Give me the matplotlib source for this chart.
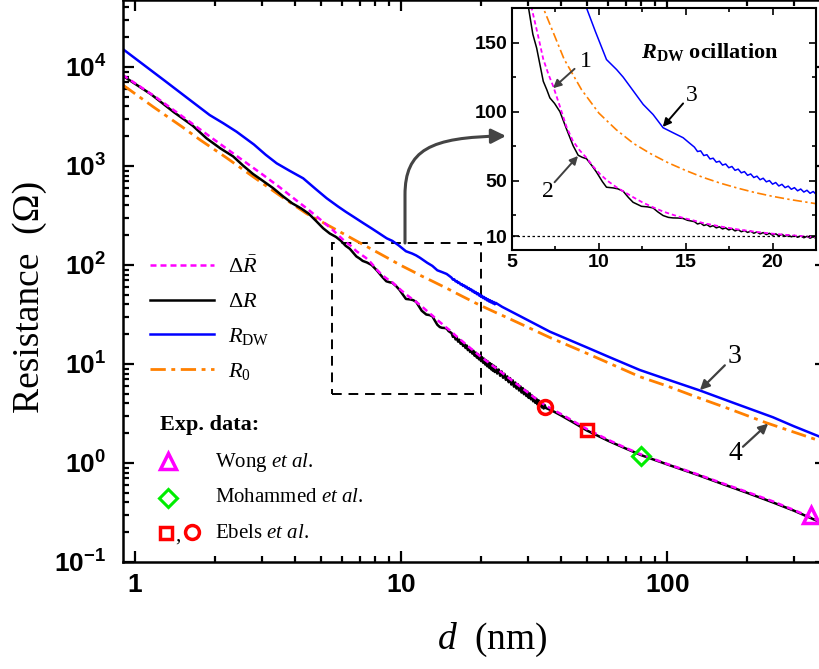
import numpy as np
import matplotlib
matplotlib.use('Agg')
import matplotlib.pyplot as plt
from matplotlib.path import Path
from matplotlib.patches import FancyArrowPatch, Rectangle
from matplotlib.lines import Line2D
from matplotlib.ticker import FixedLocator, LogLocator, FuncFormatter, NullFormatter

plt.rcParams['font.family'] = ['Liberation Sans', 'DejaVu Sans']
plt.rcParams['mathtext.fontset'] = 'custom'
plt.rcParams['mathtext.rm'] = 'Liberation Serif'
plt.rcParams['mathtext.it'] = 'Liberation Serif:italic'
plt.rcParams['mathtext.bf'] = 'Liberation Serif:bold'
plt.rcParams['mathtext.bfit'] = 'Liberation Serif:bold:italic'
plt.rcParams['mathtext.sf'] = 'Liberation Sans:bold'

# ---- data ----
# Delta R (black, oscillating)
d_dR = [0.9, 1.15, 1.4, 1.65, 1.86, 2.1, 2.34, 2.55, 2.78, 3.0, 3.3, 3.6, 3.9, 4.2, 4.5, 4.8,
        5.1, 5.4, 5.7, 5.94, 6.2, 6.42, 6.8, 7.0, 7.18, 7.45, 7.76, 8.14, 8.52, 8.81, 9.05, 9.29,
        9.6, 9.87, 10.2, 10.44, 10.82, 11.1, 11.4, 11.7, 11.97, 12.45, 12.8, 13.12, 13.4, 13.7,
        14.0, 14.27, 14.6, 14.85, 15.1, 15.3,
        15.50, 15.68, 15.86, 16.04, 16.22, 16.40, 16.58, 16.76, 16.94, 17.12, 17.30, 17.48, 17.66,
        17.84, 18.02, 18.20, 18.38, 18.56, 18.74, 18.92, 19.10, 19.28, 19.46, 19.64, 19.82, 20.00,
        20.18, 20.36, 20.54, 20.72, 20.90, 21.08, 21.26, 21.44, 21.62, 21.80, 21.98, 22.16, 22.34,
        22.52, 22.70,
        23.0, 23.3, 23.6, 23.9, 24.2, 24.5, 24.8, 25.1, 25.4, 25.7, 26.0, 26.3, 26.6, 26.9, 27.2,
        27.5, 27.8, 28.1, 28.4, 28.7, 29.0, 29.3, 29.6, 29.9, 30.2, 30.5, 30.8, 31.1, 31.4, 31.7,
        32.0, 32.3, 32.6, 32.9, 33.2, 33.5, 33.8, 34.1, 34.4, 34.7, 35.0,
        37, 40, 45, 50, 60, 70, 80, 100, 130, 160, 200, 250, 300, 400]
R_dR = [8150, 5300, 3500, 2550, 1900, 1500, 1250, 1010, 830, 720, 600, 495, 420, 375, 330, 278,
        235, 208, 192, 176, 156, 146, 122, 116, 110, 106, 100, 87.4, 75.4, 68.5, 67, 66,
        61, 56.2, 49.5, 45.4, 44.9, 44.2, 42.5, 38, 34.5, 31.6, 31.2, 30.4, 27.5, 24.9,
        23.6, 23.2, 23.1, 22.8, 21.5, 21.0,
        20.5, 18.8, 19.5, 17.7, 18.4, 16.8, 17.6, 16.0, 16.8, 15.2, 16.0, 14.5, 15.4,
        13.8, 14.7, 13.2, 14.1, 12.7, 13.6, 12.1, 13.05, 11.6, 12.6, 11.15, 12.1, 10.7,
        11.7, 10.3, 11.3, 9.9, 10.9, 9.5, 10.55, 9.2, 10.2, 8.85, 9.9, 8.55, 9.6,
        8.3, 9.35,
        8.0, 8.8, 7.6, 8.4, 7.25, 7.95, 6.9, 7.5, 6.55, 7.2, 6.2, 6.85, 5.9, 6.5, 5.65,
        6.25, 5.4, 5.95, 5.15, 5.7, 4.95, 5.45, 4.75, 5.25, 4.55, 5.05, 4.4, 4.8, 4.2, 4.6,
        4.05, 4.45, 3.9, 4.3, 3.78, 4.1, 3.65, 4.0, 3.55, 3.85, 3.6,
        3.38, 3.02, 2.52, 2.13, 1.68, 1.4, 1.2, 0.97, 0.76, 0.62, 0.5, 0.4, 0.33, 0.235]

# averaged Delta R (magenta dashed)
d_dRbar = [0.9, 1.2, 1.5, 2.0, 2.5, 3.0, 3.5, 4.0, 4.5, 5.0, 5.5, 6.13, 6.5, 6.8, 7.1, 7.37, 7.7,
           8.14, 8.5, 8.9, 9.3, 9.7, 10.06, 10.5, 11.0, 11.4, 12.0, 12.5, 13.1, 13.7, 14.3, 14.85,
           15.5, 16, 17, 18, 19, 20, 21, 22, 23, 24, 26, 28, 30, 32, 34, 35, 37, 40, 45, 50, 60,
           70, 80, 100, 130, 160, 200, 250, 300, 400]
R_dRbar = [8300, 4950, 3200, 1820, 1180, 830, 610, 460, 360, 285, 230, 175, 155, 138, 127, 118.5, 106,
           89, 79, 72, 66.5, 60, 55, 50, 45.5, 42.5, 38, 34.5, 31, 27.8, 25.3, 23.2,
           21.2, 19.5, 17.0, 14.9, 13.2, 11.8, 10.7, 9.7, 8.9, 8.15, 6.9, 5.95, 5.15, 4.5, 4.0, 3.8,
           3.5, 3.12, 2.6, 2.2, 1.72, 1.42, 1.22, 0.98, 0.77, 0.63, 0.51, 0.41, 0.335, 0.24]

# R_DW (blue)
d_dw = [0.9, 1.3, 1.6, 1.91, 2.15, 2.41, 2.8, 3.1, 3.41, 3.8, 4.29, 4.8, 5.26, 5.8, 6.2, 6.62,
        7.2, 7.8, 8.3, 8.84, 9.29, 9.8, 10.44, 11.02, 11.4, 11.78, 12.55, 13.12, 13.7, 14.27,
        14.85, 15.2,
        15.50, 15.68, 15.86, 16.04, 16.22, 16.40, 16.58, 16.76, 16.94, 17.12, 17.30, 17.48, 17.66,
        17.84, 18.02, 18.20, 18.38, 18.56, 18.74, 18.92, 19.10, 19.28, 19.46, 19.64, 19.82, 20.00,
        20.18, 20.36, 20.54, 20.72, 20.90, 21.08, 21.26, 21.44, 21.62, 21.80, 21.98, 22.16, 22.34,
        22.52, 22.70,
        24, 28, 32, 36.3, 50, 60, 79, 100, 133, 180, 250, 300, 400]
R_dw = [15200, 7200, 4700, 3270, 2700, 2220, 1650, 1300, 1065, 900, 751, 580, 472, 390, 345, 308,
        266, 232, 208, 186, 175, 158, 137.7, 130.5, 125, 118.5, 105.3, 98, 88.4, 84.8,
        81.2, 77.5,
        74.4, 71.2, 71.7, 68.3, 68.9, 65.8, 66.4, 63.5, 64.2, 61.4, 62.2, 59.5, 60.4,
        57.6, 58.5, 55.8, 56.7, 54.0, 55.0, 52.4, 53.4, 50.8, 51.9, 49.3, 50.2, 47.6,
        48.8, 46.3, 47.5, 45.1, 46.2, 43.9, 45.1, 42.8, 44.1, 41.9, 43.2, 41.0, 42.3,
        40.1, 41.5,
        37.8, 30.5, 25.3, 21.2, 14.7, 11.9, 8.7, 7.0, 5.4, 4.0, 2.9, 2.35, 1.72]

# R_0 (orange dash-dot)
d_r0 = [0.9, 1.17, 1.5, 1.76, 2.2, 2.78, 3.5, 4.42, 5.5, 6.8, 8, 9, 10, 11, 12, 13, 14, 15, 16,
        17, 18, 19, 20, 21, 22.5, 25, 30, 36.3, 50, 79, 100, 133, 170, 236, 300, 400]
R_r0 = [6600, 3970, 2500, 1832, 1220, 780, 505, 330, 240, 175, 138, 116, 99, 87, 77, 69.5, 63, 57.5,
        52.5, 48.3, 44.7, 41.5, 38.8, 36.5, 33.5, 29.5, 23.5, 18.5, 12.8, 7.44, 6.0, 4.5, 3.55,
        2.55, 2.05, 1.58]

# experimental points
wong_d, wong_R = [348], [0.30]
moh_d, moh_R = [80], [1.18]
ebels_sq_d, ebels_sq_R = [50], [2.15]
ebels_ci_d, ebels_ci_R = [34.8], [3.7]

x_major = [1, 10, 100]
y_major = [0.1, 1, 10, 100, 1000, 10000]
in_xticks = [5, 10, 15, 20]
in_yticks = [10, 50, 100, 150]

c_blue, c_orange, c_mag = '#0000ff', '#ff8000', '#ff00ff'
W, H = 819, 669


def fp(x, y):
    return (x / W, 1 - y / H)


def sf_label(v, p):
    return r'$\mathsf{%d}$' % round(v)


fig = plt.figure(figsize=(8.19, 6.69), dpi=100)
ax = fig.add_axes([123 / W, 1 - 562 / H, 703 / W, 562 / H])
ax.set_xscale('log')
ax.set_yscale('log')

l_r0, = ax.plot(d_r0, R_r0, color=c_orange, lw=2.0, dashes=(5.5, 2, 1.4, 2), label=r'$R_0$')
l_dw, = ax.plot(d_dw, R_dw, color=c_blue, lw=1.8, label=r'$R_{\rm DW}$')
l_dR, = ax.plot(d_dR, R_dR, color='k', lw=1.8, label=r'$\Delta R$')
l_bar, = ax.plot(d_dRbar, R_dRbar, color=c_mag, lw=1.8, dashes=(2.4, 1.6), label=r'$\Delta\bar{R}$')

mk = dict(ls='none', mfc='none', zorder=5)
ax.plot(ebels_ci_d, ebels_ci_R, marker='o', ms=10, mec='#ff0000', mew=2.5, **mk)
ax.plot(ebels_sq_d, ebels_sq_R, marker='s', ms=8.5, mec='#ff0000', mew=2.5, **mk)
ax.plot(moh_d, moh_R, marker='D', ms=9, mec='#00ee00', mew=2.2, **mk)
ax.plot(wong_d, wong_R, marker='^', ms=12, mec=c_mag, mew=2.5, **mk)

ax.set_xlim(0.902, 396)
ax.set_ylim(0.1, 47500)

ax.xaxis.set_major_locator(FixedLocator(x_major))
ax.xaxis.set_major_formatter(FuncFormatter(sf_label))
ax.xaxis.set_minor_locator(LogLocator(base=10, subs=np.arange(2, 10), numticks=20))
ax.xaxis.set_minor_formatter(NullFormatter())
ax.yaxis.set_major_locator(FixedLocator(y_major))
ax.yaxis.set_major_formatter(FuncFormatter(lambda v, p: r'$\mathsf{10^{%d}}$' % round(np.log10(v))))
ax.yaxis.set_minor_locator(LogLocator(base=10, subs=np.arange(2, 10), numticks=20))
ax.yaxis.set_minor_formatter(NullFormatter())
ax.tick_params(which='both', direction='in', top=True, right=True, width=1.6, labelsize=19)
ax.tick_params(which='major', length=8)
ax.tick_params(which='minor', length=4)
ax.tick_params(axis='y', pad=12)
ax.tick_params(axis='x', pad=8)
for s in ax.spines.values():
    s.set_linewidth(1.8)

ax.add_patch(Rectangle((5.5, 5), 20 - 5.5, 165 - 5, fill=False, ec='k', lw=1.4, ls=(0, (5, 3.5))))

ax.legend(handles=[l_bar, l_dR, l_dw, l_r0], loc='upper left', bbox_to_anchor=fp(150, 256),
          bbox_transform=fig.transFigure, frameon=False, fontsize=16, handlelength=2.9,
          handletextpad=0.6, labelspacing=0.62, borderpad=0, borderaxespad=0)

# experimental data key
serif = 'Liberation Serif'
fig.text(*fp(160, 425), 'Exp. data:', family=serif, weight='bold', fontsize=16, va='center')
fig.add_artist(Line2D([168 / W], [1 - 461 / H], marker='^', ms=12, mec=c_mag, mew=2.5, mfc='none'))
fig.add_artist(Line2D([168 / W], [1 - 498 / H], marker='D', ms=9, mec='#00ee00', mew=2.2, mfc='none'))
fig.add_artist(Line2D([166 / W], [1 - 533 / H], marker='s', ms=8.5, mec='#ff0000', mew=2.5, mfc='none'))
fig.add_artist(Line2D([192 / W], [1 - 532 / H], marker='o', ms=10, mec='#ff0000', mew=2.5, mfc='none'))
fig.text(*fp(175, 536), ',', family=serif, fontsize=15, va='center')
for y, name in [(462, 'Wong'), (498, 'Mohammed'), (533, 'Ebels')]:
    fig.text(*fp(215, y), name + r' $et$ $al$.', family=serif, fontsize=15, va='center')

# main annotations
ax.text(180, 12.0, '3', family=serif, fontsize=20, ha='center', va='center')
ax.text(180, 1.26, '4', family=serif, fontsize=20, ha='center', va='center')
ap = dict(arrowstyle='-|>', color='#404040', lw=1.6, mutation_scale=14, shrinkA=0, shrinkB=0)
ax.annotate('', xy=(133, 5.45), xytext=(165, 9.7), arrowprops=ap)
ax.annotate('', xy=(240, 2.5), xytext=(193, 1.46), arrowprops=ap)

# axis titles
fig.text(*fp(30, 297), 'Resistance  (\u03a9)', family=serif, fontsize=27,
         rotation=90, ha='center', va='center')
fig.text(*fp(492, 640), r'$d$  (nm)', family=serif, fontsize=27, ha='center', va='center')

# curved arrow from the box to the inset
verts = [fp(405, 243), fp(405, 195), fp(405, 150), fp(430, 137), fp(506, 136)]
codes = [Path.MOVETO, Path.LINETO, Path.CURVE4, Path.CURVE4, Path.CURVE4]
fig.add_artist(FancyArrowPatch(path=Path(verts, codes), arrowstyle='-|>', mutation_scale=22,
                               color='#444444', lw=2.2, transform=fig.transFigure))

# ---- inset ----
axin = fig.add_axes([512 / W, 1 - 250 / H, 304 / W, 242 / H])
axin.plot(d_r0, R_r0, color=c_orange, lw=1.2, dashes=(5.5, 2, 1.4, 2))
axin.plot(d_dw, R_dw, color=c_blue, lw=1.1)
axin.plot(d_dR, R_dR, color='k', lw=1.1)
axin.plot(d_dRbar, R_dRbar, color=c_mag, lw=1.3, dashes=(2.4, 1.6))
axin.axhline(10, color='k', lw=0.9, ls=(0, (2, 2)))
axin.set_xlim(5, 22.5)
axin.set_ylim(0, 175)
axin.xaxis.set_major_locator(FixedLocator(in_xticks))
axin.yaxis.set_major_locator(FixedLocator(in_yticks))
axin.xaxis.set_major_formatter(FuncFormatter(sf_label))
axin.yaxis.set_major_formatter(FuncFormatter(sf_label))
axin.set_xticks([7.5, 12.5, 17.5, 22.5], minor=True)
axin.set_yticks([25, 75, 125, 175], minor=True)
axin.tick_params(which='both', direction='in', top=True, right=True, width=1.2, labelsize=14, pad=3)
axin.tick_params(which='major', length=5)
axin.tick_params(which='minor', length=3)
for s in axin.spines.values():
    s.set_linewidth(1.5)

axin.text(16.4, 143, r'$\mathbfit{R}_{\mathbf{DW}}$ ocillation', family=serif, weight='bold',
          fontsize=16, ha='center', va='center')
tx = dict(family=serif, fontsize=17, ha='center', va='center')
axin.text(9.25, 136, '1', **tx)
axin.text(7.05, 42, '2', **tx)
axin.text(15.35, 112, '3', **tx)
api = dict(arrowstyle='-|>', color='#404040', lw=1.4, mutation_scale=12, shrinkA=0, shrinkB=0)
axin.annotate('', xy=(7.36, 117), xytext=(8.6, 131), arrowprops=api)
axin.annotate('', xy=(8.8, 68), xytext=(7.45, 49), arrowprops=api)
axin.annotate('', xy=(13.68, 89), xytext=(14.85, 106), arrowprops=dict(api, color='k'))

fig.savefig('out.png', dpi=100)
